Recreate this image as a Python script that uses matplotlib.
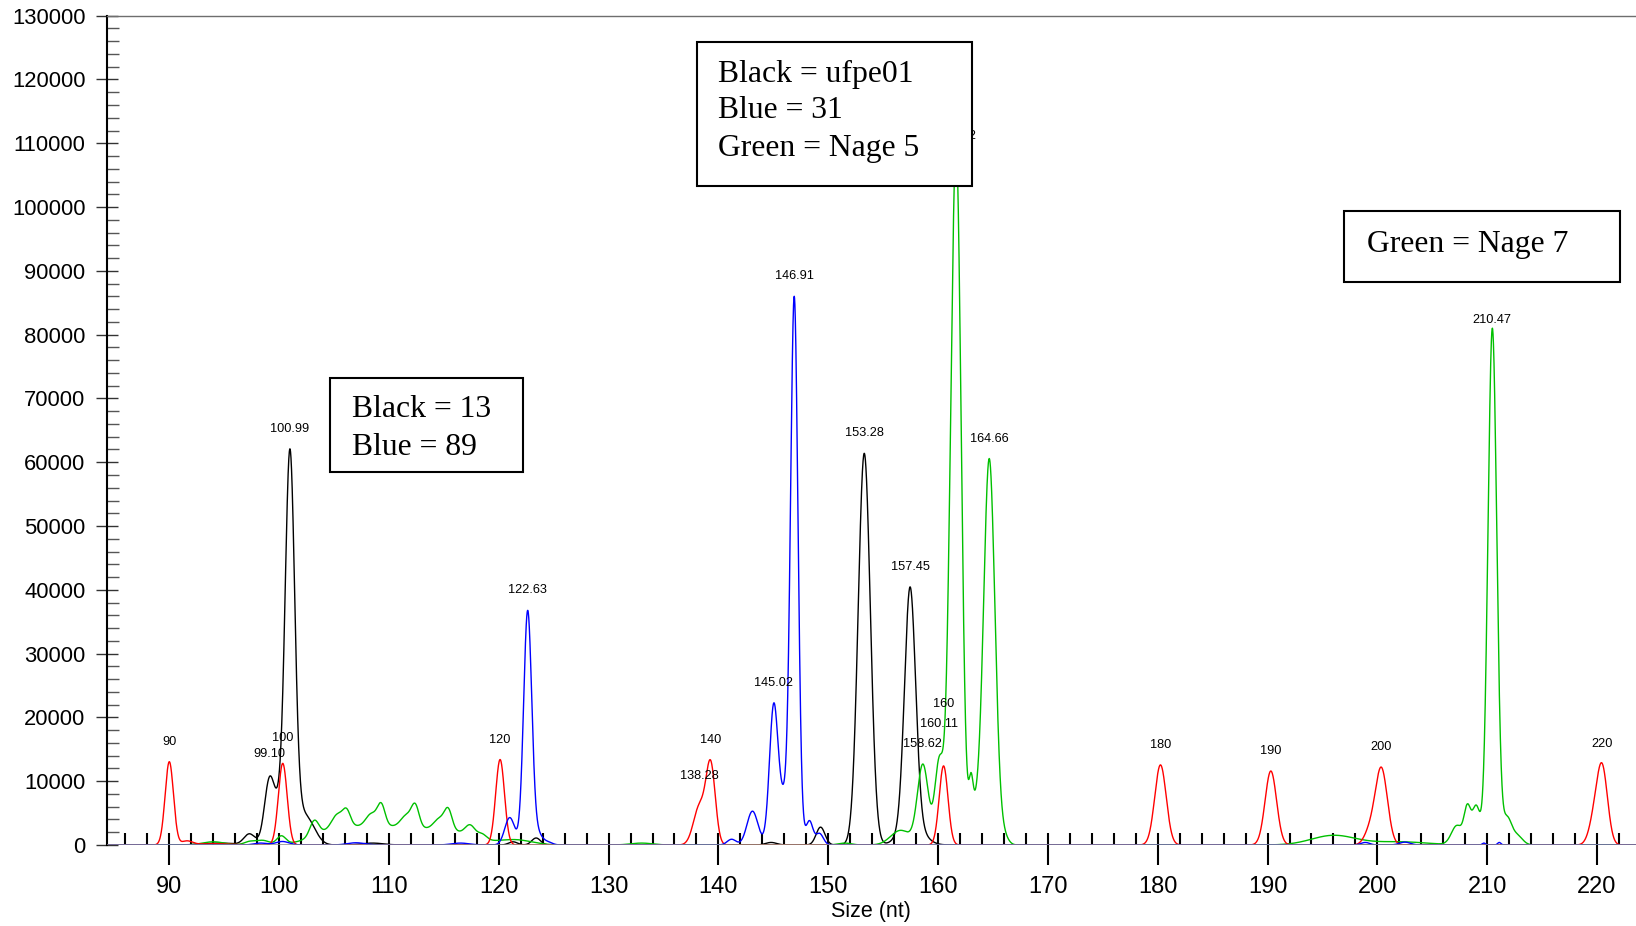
import numpy as np
import matplotlib
matplotlib.use("Agg")
import matplotlib.pyplot as plt
from matplotlib.patches import Rectangle
from matplotlib.ticker import MultipleLocator

plt.rcParams['font.family'] = ['Liberation Sans', 'DejaVu Sans']

# size standard (red): nominal size label, observed position, height, peak width
ladder_labels = ['90', '100', '120', '140', '160', '180', '190', '200', '220']
ladder_pos = [90.0, 100.33, 120.12, 139.3, 160.5, 180.25, 190.3, 200.36, 220.5]
ladder_height = [13050, 12800, 13400, 12200, 12400, 12560, 11600, 12000, 11200]
ladder_width = [0.38, 0.4, 0.4, 0.42, 0.4, 0.52, 0.52, 0.55, 0.48]

# called sample peaks per dye
red_called_pos = [138.28]
red_called_height = [6000]
red_called_width = [0.55]

black_called_pos = [99.10, 100.99, 153.28, 157.45]
black_called_height = [8800, 53200, 61400, 37000]
black_called_width = [0.45, 0.42, 0.55, 0.5]

blue_called_pos = [122.63, 145.02, 146.91]
blue_called_height = [36500, 19500, 80600]
blue_called_width = [0.37, 0.38, 0.33]

green_called_pos = [158.62, 160.11, 161.72, 164.66, 210.47]
green_called_height = [12500, 13000, 95000, 60500, 81000]
green_called_width = [0.5, 0.4, 0.42, 0.52, 0.4]

# smaller unlabelled components (shoulders, stutter, background)
red_minor_pos = [91.6, 94.0, 199.3, 219.8]
red_minor_height = [600, 200, 2000, 4000]
red_minor_width = [0.5, 1.5, 0.5, 0.5]

black_minor_pos = [94.5, 97.3, 100.7, 102.6, 108.5, 121.3, 123.4, 144.8, 149.3, 157.6]
black_minor_height = [300, 1700, 9000, 3500, 300, 500, 1100, 400, 2800, 3500]
black_minor_width = [1.5, 0.5, 0.9, 0.75, 1.0, 0.4, 0.4, 0.5, 0.4, 1.0]

blue_minor_pos = [98.3, 100.3, 107.0, 116.5, 121.0, 123.5, 124.5, 141.2, 143.1,
                  146.2, 148.3, 149.2, 198.9, 202.5, 209.7, 211.1]
blue_minor_height = [300, 550, 350, 300, 4300, 1800, 400, 900, 5300,
                     8000, 3500, 1800, 400, 450, 300, 400]
blue_minor_width = [0.6, 0.6, 0.8, 0.8, 0.45, 0.45, 0.4, 0.4, 0.5,
                    0.8, 0.3, 0.35, 0.4, 0.5, 0.15, 0.15]

green_minor_pos = [94.0, 97.3, 98.5, 100.2, 103.2, 105.3, 106.15, 108.4, 109.3,
                   111.6, 112.4, 114.6, 115.4, 117.4, 118.5, 105.5, 110.5, 115.5,
                   121.5, 133.0, 151.5, 156.6, 161.2, 163.0, 163.2, 166.0, 196.0,
                   202.0, 207.25, 208.2, 209.0, 211.8, 212.7]
green_minor_height = [500, 500, 700, 1300, 2400, 2000, 2300, 2000, 3300,
                      1800, 3300, 1600, 3000, 1700, 800, 2500, 2600, 2000,
                      800, 300, 300, 2300, 30000, 5000, 5500, 1200, 1500,
                      500, 3000, 5500, 6000, 4000, 1500]
green_minor_width = [1.0, 0.5, 0.6, 0.4, 0.4, 0.5, 0.35, 0.5, 0.35,
                     0.5, 0.35, 0.5, 0.35, 0.45, 0.4, 2.2, 2.5, 2.2,
                     1.5, 1.0, 0.6, 0.9, 0.4, 0.18, 0.5, 0.4, 2.0,
                     2.5, 0.5, 0.3, 0.35, 0.4, 0.5]

x_ticks = list(range(90, 221, 10))
y_ticks = list(range(0, 130001, 10000))

size = np.arange(84.0, 224.0, 0.01)


def trace(pos, height, width):
    y = np.zeros_like(size)
    for c, h, w in zip(pos, height, width):
        y += h * np.exp(-0.5 * ((size - c) / w) ** 2)
    return y


red = trace(ladder_pos + red_called_pos + red_minor_pos,
            ladder_height + red_called_height + red_minor_height,
            ladder_width + red_called_width + red_minor_width)
black = trace(black_called_pos + black_minor_pos,
              black_called_height + black_minor_height,
              black_called_width + black_minor_width)
blue = trace(blue_called_pos + blue_minor_pos,
             blue_called_height + blue_minor_height,
             blue_called_width + blue_minor_width)
green = trace(green_called_pos + green_minor_pos,
              green_called_height + green_minor_height,
              green_called_width + green_minor_width)

W, H = 1636, 926
fig = plt.figure(figsize=(W / 100, H / 100), dpi=100)
ax = fig.add_axes([106.7 / W, 81 / H, 1 - 106.7 / W, 829.3 / H])

ax.plot(size, black, color='black', lw=1.0, zorder=2)
ax.plot(size, green, color='#00c000', lw=1.0, zorder=2)
ax.plot(size, red, color='red', lw=1.0, zorder=2)
ax.plot(size, blue, color='blue', lw=1.0, zorder=2)
ax.axhline(0, color='#8c8c8c', lw=1.8, zorder=3)

ax.set_xlim(84.30, 223.55)
ax.set_ylim(0, 130000)

# peak labels
labels = []
for t, p in zip(ladder_labels, ladder_pos):
    labels.append((t, p, red))
for p in red_called_pos:
    labels.append((f'{p:.2f}', p, red))
for p in black_called_pos:
    labels.append((f'{p:.2f}', p, black))
for p in blue_called_pos:
    labels.append((f'{p:.2f}', p, blue))
for p in green_called_pos:
    labels.append((f'{p:.2f}', p, green))

lift = {'100': 5, '99.10': 3, '138.28': 7, '160.11': 12, '160': 42, '210.47': -12}
for t, p, tr in labels:
    yv = np.interp(p, size, tr)
    ax.annotate(t, (p, yv), xytext=(0, (20 + lift.get(t, 0)) * 0.72),
                textcoords='offset points', ha='center', va='center',
                fontsize=9.2, color='black', zorder=4)

# axes styling
for s in ['right', 'bottom']:
    ax.spines[s].set_visible(False)
ax.spines['top'].set_color('#6e6e6e')
ax.spines['top'].set_linewidth(1.0)
ax.spines['left'].set_linewidth(1.5)

ax.set_xticks(x_ticks)
ax.set_xticklabels([str(v) for v in x_ticks])
ax.xaxis.set_minor_locator(MultipleLocator(2))
ax.xaxis.remove_overlapping_locs = False
ax.tick_params(axis='x', which='major', direction='out', length=14.4, width=1.5,
               color='black', labelsize=17, pad=8)
ax.tick_params(axis='x', which='minor', direction='in', length=8.4, width=1.5,
               color='black')

ax.set_yticks(y_ticks)
ax.set_yticklabels([str(v) for v in y_ticks])
ax.yaxis.set_minor_locator(MultipleLocator(2000))
ax.tick_params(axis='y', which='major', direction='inout', length=16.5, width=1.0,
               color='#333333', labelsize=15.8, pad=7)
ax.tick_params(axis='y', which='minor', direction='in', length=8.4, width=1.0,
               color='#555555')

ax.set_xlabel('Size (nt)', fontsize=15.5, labelpad=2)


def px(x, y):
    return x / W, 1 - y / H


def note_box(x0, y0, x1, y1, tx, lines):
    fig.add_artist(Rectangle(px(x0, y1), (x1 - x0) / W, (y1 - y0) / H,
                             transform=fig.transFigure, facecolor='white',
                             edgecolor='black', lw=1.5, zorder=5))
    for s, yb in lines:
        fig.text(*px(tx, yb), s, fontsize=22.8, family='Liberation Serif',
                 va='baseline', ha='left', zorder=6)


note_box(696.7, 42.3, 971.7, 186, 718.3,
         [('Black = ufpe01', 81.7), ('Blue = 31', 118.3), ('Green = Nage 5', 155.7)])
note_box(330, 378.3, 522.7, 471.7, 351.7,
         [('Black = 13', 416.7), ('Blue = 89', 455)])
note_box(1344.3, 210.7, 1620, 281.7, 1366.7, [('Green = Nage 7', 251.7)])

fig.savefig('out.png', dpi=100)
